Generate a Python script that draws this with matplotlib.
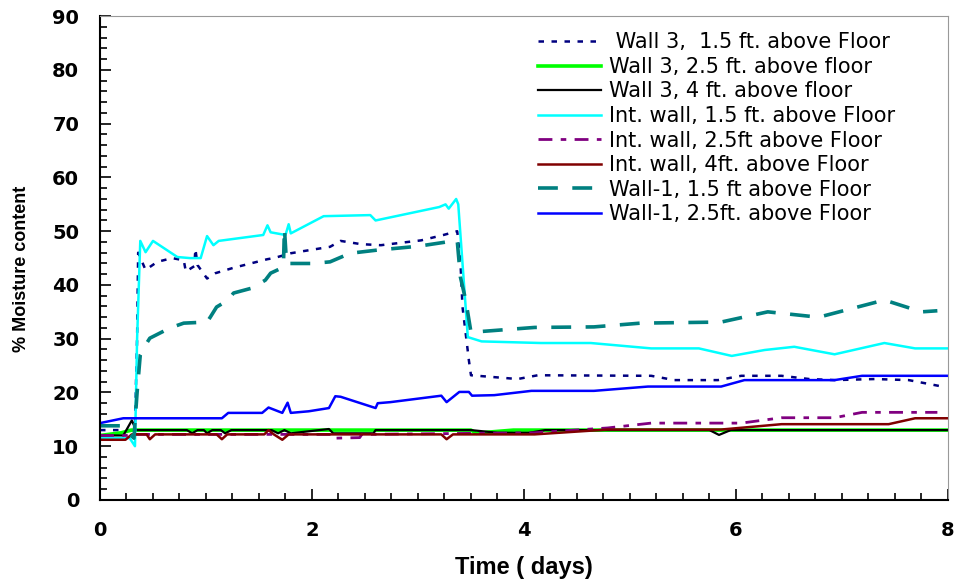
import matplotlib
matplotlib.use('Agg')
import matplotlib.pyplot as plt
from matplotlib.ticker import MultipleLocator

plt.rcParams['font.family'] = ['Liberation Sans', 'DejaVu Sans']

# Wall 3, 1.5 ft
w3_15_t = [0, 0.3, 0.33, 0.35, 0.36, 0.43, 0.54, 0.68, 0.79, 0.81, 0.89, 0.9, 0.92, 1.01, 1.09, 1.26, 1.58,
           1.64, 1.8, 1.92, 2.17, 2.27, 2.46, 2.65, 3.03, 3.24, 3.37, 3.4, 3.42, 3.45, 3.48, 3.5, 3.94, 4.13,
           5.2, 5.42, 5.83, 6.05, 6.43, 6.69, 6.93, 7.31, 7.63, 7.92]
w3_15_v = [13, 13, 14, 30, 46, 42.8, 44.3, 45, 44.6, 42.5, 43.5, 46.7, 43.7, 41.2, 42.2, 43.2, 44.8,
           45, 45.9, 46.3, 47.1, 48.2, 47.6, 47.4, 48.3, 49.3, 50, 44.6, 35.9, 31, 26, 23.2, 22.5, 23.2,
           23.1, 22.3, 22.3, 23.1, 23.1, 22.5, 22.3, 22.5, 22.3, 21.2]

# Wall 3, 2.5 ft
w3_25_t = [0, 0.2, 0.3, 3.5, 3.55, 3.65, 3.9, 8]
w3_25_v = [12, 12.5, 13, 13, 12.4, 12.6, 13, 13]

# Wall 3, 4 ft
w3_4_t = [0, 0.22, 0.3, 0.34, 0.82, 0.87, 0.92, 0.98, 1.01, 1.06, 1.14, 1.18, 1.24, 1.62, 1.68, 1.74,
          1.8, 2.16, 2.2, 2.58, 2.6, 3.5, 3.75, 4.05, 4.2, 5.75, 5.84, 5.95, 8]
w3_4_v = [12, 12, 14.8, 13, 13, 12.4, 13, 13, 12.4, 13, 13, 12.4, 13, 13, 12.4, 13,
          12.4, 13.2, 12.4, 12.4, 13, 13, 12.5, 12.5, 13, 13, 12.1, 13, 13]

# Int. wall, 1.5 ft
int_15_t = [0, 0.28, 0.33, 0.35, 0.38, 0.43, 0.5, 0.73, 0.85, 0.95, 1.01, 1.07, 1.12, 1.54, 1.58, 1.61,
            1.75, 1.78, 1.8, 2.11, 2.55, 2.6, 3.2, 3.26, 3.29, 3.36, 3.38, 3.47, 3.6, 4.16, 4.63, 5.2,
            5.65, 5.96, 6.27, 6.55, 6.93, 7.4, 7.69, 8.0]
int_15_v = [11.5, 11.5, 10, 30, 48.2, 46.1, 48.2, 45.2, 45, 45, 49.1, 47.4, 48.2, 49.3, 51.1, 49.8,
            49.3, 51.3, 49.6, 52.8, 53, 52, 54.5, 55, 54.2, 56, 55, 30.3, 29.5, 29.2, 29.2, 28.2,
            28.2, 26.8, 27.9, 28.5, 27.1, 29.2, 28.2, 28.2]

# Int. wall, 2.5 ft
int_25_t = [0, 0.25, 0.3, 2.2, 2.22, 2.45, 2.47, 4.1, 4.79, 5.2, 6.05, 6.43, 6.93, 7.19, 7.9]
int_25_v = [12, 12, 12.2, 12.2, 11.5, 11.6, 12.2, 12.5, 13.4, 14.3, 14.3, 15.3, 15.3, 16.3, 16.3]

# Int. wall, 4 ft
int_4_t = [0, 0.24, 0.3, 0.44, 0.47, 0.52, 1.1, 1.15, 1.2, 1.55, 1.59, 1.64, 1.72, 1.78, 3.22, 3.27,
           3.33, 4.1, 4.79, 5.86, 6.43, 7.44, 7.69, 8.0]
int_4_v = [11.2, 11.2, 12.2, 12.2, 11.3, 12.2, 12.2, 11.3, 12.2, 12.2, 13.0, 12.2, 11.2, 12.2, 12.2, 11.3,
           12.2, 12.2, 13.1, 13.1, 14.1, 14.1, 15.2, 15.2]

# Wall-1, 1.5 ft
w1_15_t = [0, 0.2, 0.32, 0.35, 0.38, 0.41, 0.47, 0.66, 0.79, 1.01, 1.04, 1.1, 1.21, 1.26, 1.43, 1.56,
           1.61, 1.73, 1.74, 1.76, 1.78, 2.0, 2.17, 2.36, 2.62, 3.0, 3.37, 3.4, 3.45, 3.5, 4.1, 4.66,
           5.1, 5.86, 6.3, 6.78, 7.4, 7.75, 7.9]
w1_15_v = [13.8, 13.8, 11.5, 20, 27, 28.2, 30.1, 32, 32.9, 33.1, 34, 35.9, 37.2, 38.5, 39.4, 40.9,
           42.2, 43.3, 50.5, 44, 44, 44, 44.3, 45.9, 46.5, 47.2, 48.3, 41.5, 37.2, 31.2, 32.1, 32.2,
           32.9, 33.1, 35, 34, 37.2, 35, 35.2]

# Wall-1, 2.5 ft
w1_25_t = [0, 0.22, 1.15, 1.21, 1.53, 1.59, 1.72, 1.77, 1.8, 1.97, 2.16, 2.22, 2.27, 2.6, 2.62, 2.74,
           3.22, 3.27, 3.39, 3.48, 3.51, 3.72, 4.07, 4.66, 5.17, 5.86, 6.08, 6.93, 7.19, 8.0]
w1_25_v = [14.3, 15.2, 15.2, 16.2, 16.2, 17.2, 16.2, 18.1, 16.2, 16.5, 17.1, 19.3, 19.2, 17.1, 18, 18.2,
           19.4, 18.2, 20.1, 20.1, 19.4, 19.5, 20.3, 20.3, 21.1, 21.1, 22.3, 22.3, 23.1, 23.1]

fig = plt.figure(figsize=(9.56, 5.8), dpi=100)
ax = fig.add_axes([0.1046, 0.138, 0.887, 0.834])

ax.plot(w3_15_t, w3_15_v, color='#000080', lw=1.8, ls=(0, (2.2, 3.0)),
        label=' Wall 3,  1.5 ft. above Floor')
ax.plot(w3_25_t, w3_25_v, color='#00ff00', lw=2.6, label='Wall 3, 2.5 ft. above floor')
ax.plot(w3_4_t, w3_4_v, color='black', lw=1.6, label='Wall 3, 4 ft. above floor')
ax.plot(int_15_t, int_15_v, color='#00ffff', lw=1.8, label='Int. wall, 1.5 ft. above Floor')
ax.plot(int_25_t, int_25_v, color='#800080', lw=2.0, ls=(0, (5, 3, 2, 3)),
        label='Int. wall, 2.5ft above Floor')
ax.plot(int_4_t, int_4_v, color='#800000', lw=1.8, label='Int. wall, 4ft. above Floor')
ax.plot(w1_15_t, w1_15_v, color='#008080', lw=2.6, ls=(0, (5.5, 4)),
        label='Wall-1, 1.5 ft above Floor')
ax.plot(w1_25_t, w1_25_v, color='#0000ff', lw=1.8, label='Wall-1, 2.5ft. above Floor')

ax.set_xlim(0, 8)
ax.set_ylim(0, 90)
ax.xaxis.set_major_locator(MultipleLocator(2))
ax.xaxis.set_minor_locator(MultipleLocator(0.25))
ax.yaxis.set_major_locator(MultipleLocator(10))
ax.yaxis.set_minor_locator(MultipleLocator(2))
ax.tick_params(which='both', direction='in', width=1.2)
ax.tick_params(which='major', length=8, labelsize=14)
ax.tick_params(axis='x', which='major', pad=15)
ax.tick_params(axis='y', which='major', pad=15)
ax.tick_params(which='minor', length=5)
for lab in ax.get_xticklabels() + ax.get_yticklabels():
    lab.set_fontweight('bold')
    lab.set_family('DejaVu Sans')

ax.spines['top'].set_color('#999999')
ax.spines['right'].set_color('#999999')
ax.spines['left'].set_linewidth(1.5)
ax.spines['bottom'].set_linewidth(1.5)

ax.set_xlabel('Time ( days)', fontsize=17, fontweight='bold', labelpad=12)
ax.set_ylabel('% Moisture content', fontsize=13, fontweight='bold')
ax.yaxis.set_label_coords(-0.083, 0.477)

leg = ax.legend(loc='upper right', bbox_to_anchor=(0.955, 0.997), frameon=False,
                prop={'family': 'DejaVu Sans', 'size': 15},
                handlelength=3.0, handletextpad=0.4, labelspacing=0.22, borderpad=0.2)

fig.savefig('out.png', dpi=100)
